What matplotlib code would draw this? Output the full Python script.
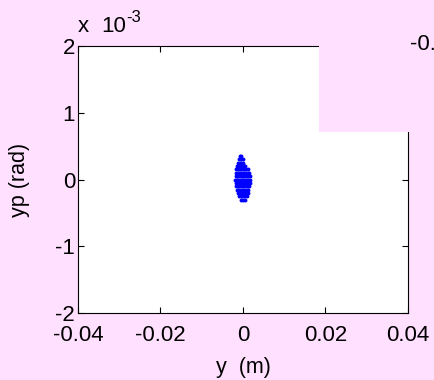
import matplotlib
matplotlib.use("Agg")
import matplotlib.pyplot as plt
from matplotlib.patches import Rectangle

# ---- data ----
row_yp = [0.00035, 0.00030, 0.00025, 0.00020, 0.00015, 0.00010, 0.00005,
          0.0, -0.00005, -0.00010, -0.00015, -0.00020, -0.00025, -0.00030]
row_y = [
    [-0.0007, -0.0005],
    [-0.0009, -0.0005, -0.0001],
    [-0.0012, -0.0008, -0.0004, 0.0],
    [-0.0014, -0.0010, -0.0006, -0.0002, 0.0002, 0.0005],
    [-0.0016, -0.0012, -0.0008, -0.0004, 0.0, 0.0004, 0.0008, 0.0011],
    [-0.0017, -0.0013, -0.0009, -0.0005, -0.0001, 0.0003, 0.0007, 0.0011, 0.0014],
    [-0.0018, -0.0014, -0.0010, -0.0006, -0.0002, 0.0002, 0.0006, 0.0010, 0.0014, 0.0016],
    [-0.0019, -0.0015, -0.0011, -0.0007, -0.0003, 0.0001, 0.0005, 0.0009, 0.0013, 0.0016],
    [-0.0018, -0.0014, -0.0010, -0.0006, -0.0002, 0.0002, 0.0006, 0.0010, 0.0014, 0.0016],
    [-0.0017, -0.0013, -0.0009, -0.0005, -0.0001, 0.0003, 0.0007, 0.0011, 0.0015],
    [-0.0015, -0.0011, -0.0007, -0.0003, 0.0001, 0.0005, 0.0009, 0.0013],
    [-0.0013, -0.0009, -0.0005, -0.0001, 0.0003, 0.0007, 0.0011],
    [-0.0010, -0.0006, -0.0002, 0.0002, 0.0006, 0.0009],
    [-0.0004, 0.0, 0.0004],
]
x_ticks = [-0.04, -0.02, 0, 0.02, 0.04]
x_tick_labels = ["-0.04", "-0.02", "0", "0.02", "0.04"]
y_ticks = [-0.002, -0.001, 0, 0.001, 0.002]
y_tick_labels = ["-2", "-1", "0", "1", "2"]

pts_y = []
pts_yp = []
for yp_val, xs in zip(row_yp, row_y):
    for xv in xs:
        pts_y.append(xv)
        pts_yp.append(yp_val)

BG = "#FFE0FF"
plt.rcParams["font.family"] = ["Liberation Sans", "DejaVu Sans"]

fig = plt.figure(figsize=(4.35, 3.8), dpi=100, facecolor=BG)
ax = fig.add_axes([78 / 435, 67 / 380, 330 / 435, 267 / 380])
ax.set_facecolor("white")

ax.plot(pts_y, pts_yp, linestyle="none", marker="o", markersize=2.8,
        color="#0000FF", markeredgewidth=0)

ax.set_xlim(-0.04, 0.04)
ax.set_ylim(-0.002, 0.002)
ax.set_xticks(x_ticks)
ax.set_xticklabels(x_tick_labels)
ax.set_yticks(y_ticks)
ax.set_yticklabels(y_tick_labels)
ax.tick_params(direction="in", length=4, width=0.8, top=True, right=True,
               labelsize=16, colors="black")
ax.tick_params(axis="x", pad=8.5)
ax.tick_params(axis="y", pad=2)
for s in ax.spines.values():
    s.set_linewidth(0.8)

ax.set_xlabel("y  (m)", fontsize=15.5, labelpad=8)
ax.set_ylabel("yp (rad)", fontsize=15.5, labelpad=18)

# exponent label, as MATLAB draws it ("x 10^-3")
fig.text(78 / 435, 1 - 32.5 / 380, "x", fontsize=16,
         ha="left", va="baseline")
fig.text(101 / 435, 1 - 32.5 / 380, "10", fontsize=16,
         ha="left", va="baseline")
fig.text(126 / 435, 1 - 21.5 / 380, "-3", fontsize=12,
         ha="left", va="baseline")

# overlapping pink panel in the top-right corner
fig.patches.append(Rectangle((319 / 435, 1 - 132 / 380), 1 - 319 / 435, 132 / 380,
                             transform=fig.transFigure, facecolor=BG,
                             edgecolor="none", zorder=10))
fig.text(410 / 435, 1 - 44.5 / 380, "-0.", fontsize=16, ha="left",
         va="center", zorder=11)

fig.savefig("out.png", dpi=100, facecolor=BG)
